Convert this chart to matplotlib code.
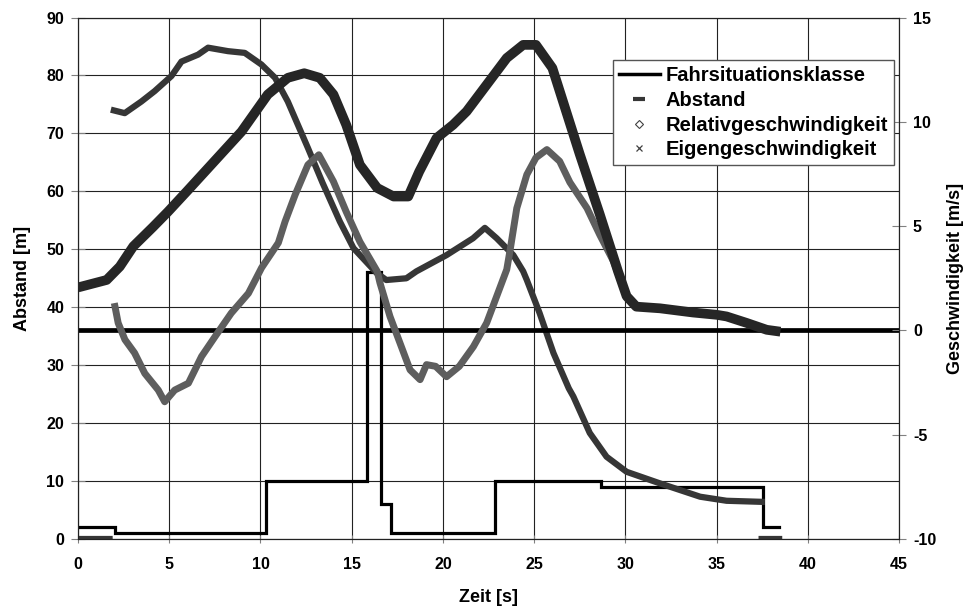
import numpy as np
import matplotlib.pyplot as plt
from matplotlib.lines import Line2D

plt.rcParams['font.family'] = ['Liberation Sans', 'DejaVu Sans']
plt.rcParams['font.weight'] = 'bold'
plt.rcParams['axes.unicode_minus'] = False

# Fahrsituationsklasse (step, left axis)
t_klasse = [0, 2.05, 10.3, 15.82, 16.6, 17.13, 22.85, 28.65, 37.56, 38.4]
klasse = [2, 1, 10, 46, 6, 1, 10, 9, 2, 2]

# Abstand [m] (left axis); nan separates the "no object" parts
t_abstand = [0, 1.9, np.nan, 1.8, 2.56, 3.47, 4.2, 5.12, 5.67, 6.58, 7.13, 8.22, 9.14,
             10.05, 10.8, 11.5, 12.6, 13.4, 14.35, 15.1, 16.37, 16.9, 18.0, 18.55,
             20.2, 21.65, 22.3, 22.95, 23.86, 24.4, 24.6, 25.3, 26.06, 26.9, 27.15,
             28.05, 28.97, 30.07, 31.9, 34.1, 35.55, 37.65, np.nan, 37.3, 38.6]
abstand = [0, 0, np.nan, 74.1, 73.5, 75.5, 77.3, 79.9, 82.4, 83.6, 84.8, 84.2, 83.9,
           81.9, 79.6, 75.5, 67.5, 61.5, 54.8, 50.2, 45.9, 44.7, 45.0, 46.2,
           49.0, 51.9, 53.7, 51.9, 49.0, 46.2, 44.7, 39.0, 32.1, 26.0, 24.6,
           18.3, 14.2, 11.6, 9.6, 7.3, 6.6, 6.4, np.nan, 0, 0]

# Relativgeschwindigkeit [m/s] (right axis)
t_rel = [1.99, 2.2, 2.57, 3.1, 3.66, 4.4, 4.75, 5.3, 6.05, 6.77, 7.5, 8.4, 9.34,
         10.06, 10.98, 11.35, 11.9, 12.6, 13.2, 14.0, 14.7, 15.45, 16.4, 16.55,
         17.1, 17.65, 18.2, 18.75, 19.1, 19.6, 20.2, 20.9, 21.67, 22.4, 22.95,
         23.5, 23.7, 24.05, 24.6, 25.1, 25.7, 26.4, 26.96, 27.9, 28.6, 29.35, 30.0]
rel = [1.31, 0.36, -0.44, -1.08, -2.06, -2.86, -3.42, -2.86, -2.53, -1.25, -0.31,
       0.83, 1.78, 3.0, 4.2, 5.22, 6.5, 7.94, 8.42, 7.14, 5.69, 4.25, 2.83, 2.28,
       0.67, -0.61, -1.89, -2.36, -1.64, -1.72, -2.22, -1.72, -0.78, 0.36, 1.64,
       2.92, 3.94, 5.86, 7.47, 8.28, 8.67, 8.11, 7.1, 5.86, 4.58, 3.31, 1.8]

# Eigengeschwindigkeit [m/s] (right axis)
t_eigen = [0, 1.57, 2.29, 3.03, 4.1, 4.93, 6.0, 7.13, 8.96, 10.4, 11.5, 12.4,
           13.25, 14.0, 14.7, 15.45, 16.4, 17.3, 18.1, 18.7, 19.65, 20.56, 21.3,
           22.4, 23.5, 24.4, 25.1, 26.0, 27.5, 28.6, 29.6, 30.07, 30.6, 31.9, 33.7,
           35.0, 35.55, 36.65, 37.75, 38.5]
eigen = [2.06, 2.42, 3.06, 4.03, 4.95, 5.69, 6.7, 7.78, 9.53, 11.31, 12.11,
         12.33, 12.11, 11.31, 9.86, 7.94, 6.83, 6.42, 6.42, 7.61, 9.22, 9.86, 10.5,
         11.78, 13.06, 13.69, 13.69, 12.58, 8.45, 5.56, 2.83, 1.64, 1.14, 1.06, 0.86,
         0.75, 0.67, 0.36, 0.03, -0.06]

fig = plt.figure(figsize=(9.74, 6.07), dpi=100)
ax = fig.add_axes([0.0801, 0.112, 0.8429, 0.8591])
ax2 = ax.twinx()

ax.set_xlim(0, 45)
ax.set_ylim(0, 90)
ax2.set_ylim(-10, 15)
ax.set_xticks(range(0, 46, 5))
ax.set_yticks(range(0, 91, 10))
ax2.set_yticks(range(-10, 16, 5))
ax.grid(True, color='#222222', lw=0.8)
ax.set_axisbelow(True)

band = dict(solid_joinstyle='round', solid_capstyle='butt')
ax.plot(t_klasse, klasse, drawstyle='steps-post', color='black', lw=2.3,
        solid_joinstyle='miter', zorder=3)
ax.plot(t_abstand, abstand, color='#363636', lw=4.5, zorder=4, **band)

ax2.axhline(0, color='black', lw=3.4, zorder=1)
ax2.plot(t_rel, rel, color='#5e5e5e', lw=5, zorder=3, **band)
ax2.plot(t_eigen, eigen, color='#262626', lw=7, zorder=4, **band)

for a in (ax, ax2):
    for s in a.spines.values():
        s.set_color('#222222')
        s.set_linewidth(0.8)
ax.tick_params(axis='y', direction='inout', length=10, color='#808080',
               labelsize=11.5, pad=5)
ax.tick_params(axis='x', direction='inout', length=6, color='#808080',
               labelsize=11.5, pad=10)
ax2.tick_params(axis='y', direction='inout', length=10, color='#808080',
                labelsize=11.5, pad=5)

ax.set_xlabel('Zeit [s]', fontsize=13, fontweight='bold', labelpad=12)
ax.set_ylabel('Abstand [m]', fontsize=13, fontweight='bold', labelpad=11)
ax2.set_ylabel('Geschwindigkeit [m/s]', fontsize=13, fontweight='bold', labelpad=8)

handles = [
    Line2D([], [], color='black', lw=2.5),
    Line2D([], [], ls='none', marker='_', ms=8, mew=3, color='#363636'),
    Line2D([], [], ls='none', marker='D', ms=4, mfc='white', mec='#404040', mew=0.8),
    Line2D([], [], ls='none', marker='x', ms=5, mew=0.9, color='#404040'),
]
labels = ['Fahrsituationsklasse', 'Abstand', 'Relativgeschwindigkeit',
          'Eigengeschwindigkeit']
leg = ax2.legend(handles, labels, loc='upper right', bbox_to_anchor=(0.994, 0.918),
                 prop={'size': 14.5, 'weight': 'bold'}, fancybox=False,
                 edgecolor='#555555', framealpha=1, handlelength=2.0,
                 handletextpad=0.3, labelspacing=0.28, borderpad=0.3,
                 borderaxespad=0)
leg.get_frame().set_linewidth(1.0)

fig.savefig('out.png', dpi=100)
